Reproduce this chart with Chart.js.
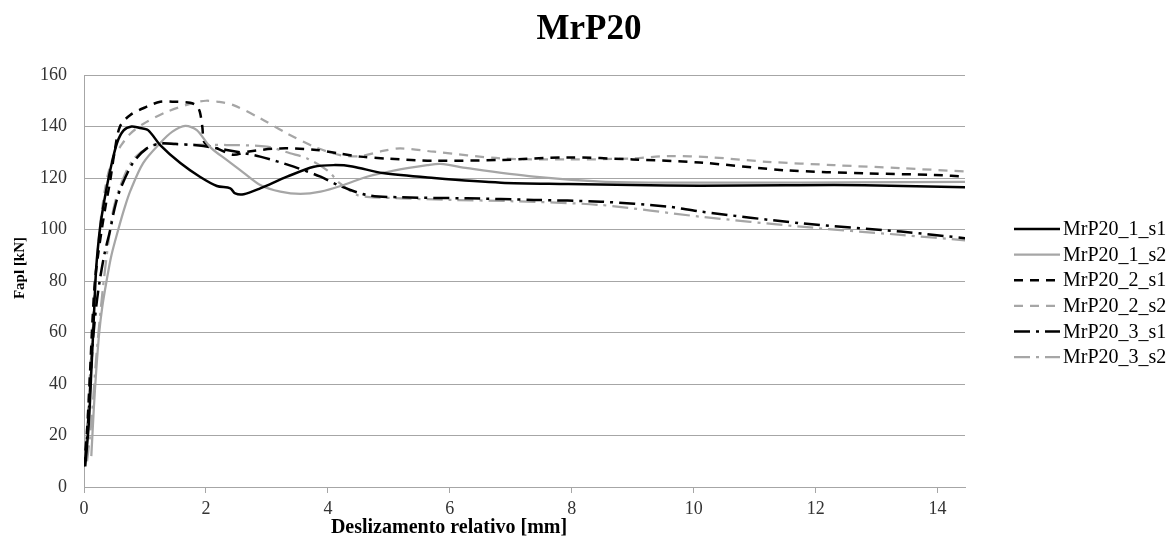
<!DOCTYPE html>
<html>
<head>
<meta charset="utf-8">
<script src="https://cdn.jsdelivr.net/npm/chart.js@4.4.0/dist/chart.umd.min.js"></script>
<style>
html,body{margin:0;padding:0;background:#fff}
#wrap{width:1176px;height:547px;position:relative}
</style>
</head>
<body>
<div id="wrap"><canvas id="cv"></canvas></div>
<script>
// series names
var names = ['MrP20_1_s1', 'MrP20_1_s2', 'MrP20_2_s1', 'MrP20_2_s2', 'MrP20_3_s1', 'MrP20_3_s2'];

// slip [mm] / load [kN]
var s1x = [0.02,0.08,0.12,0.16,0.2,0.26,0.31,0.37,0.43,0.54,0.65,0.78,0.9,1.05,1.25,1.58,1.9,2.18,2.4,2.48,2.62,2.89,3.33,3.77,4.1,4.4,4.9,5.74,6.84,7.94,9.0,10.1,11.5,12.8,14.5];
var s1y = [8,25,45,65,85,100,108,116,123,133.5,138.5,140,139.5,138.6,132.8,125.8,120.5,116.9,116,114,113.7,116,120.5,124.4,125,124.5,121.9,120,118.2,117.7,117.3,117,117.2,117.2,116.4];

var s2x = [0.12,0.16,0.2,0.25,0.3,0.37,0.45,0.56,0.66,0.76,0.97,1.25,1.45,1.66,1.85,2.07,2.34,2.62,2.89,3.22,3.55,3.88,4.26,4.64,5.1,5.63,5.85,6.29,7.38,8.48,9.58,11,12.5,14.5];
var s2y = [12,30,45,60,70,80,90,99.8,108,115,125.8,133.6,138,140.2,138.6,132,127,122,117.3,114.7,113.8,114.7,117.3,120.5,123,125,125.5,123.8,120.5,118.6,118.2,118.2,118.3,118.5];

var s3x = [0.0,0.05,0.1,0.14,0.18,0.23,0.29,0.36,0.43,0.5,0.59,0.76,1.03,1.25,1.5,1.74,1.85,1.9,1.94,1.97,2.05,2.18,2.45,2.67,3.22,3.77,4.2,4.53,5.0,5.74,6.84,7.93,9.0,10.1,11.5,12.86,13.95,14.5];
var s3y = [8,22,45,65,80,90,99.8,110,119,130,140,144.5,147.7,149.6,149.6,149.2,148,145.7,140,134,132.5,131.5,129,130.2,131.5,131,129.5,128.3,127.5,126.7,127,128,127.2,126,123,121.8,121.2,120.5];

var s4x = [0.03,0.07,0.1,0.14,0.18,0.23,0.28,0.34,0.4,0.48,0.59,0.75,0.97,1.36,1.8,2.0,2.2,2.45,2.89,3.33,3.77,4.2,4.53,4.9,5.19,5.74,6.84,7.93,9.0,9.57,10.3,11.2,12.3,13.4,14.5];
var s4y = [15,30,45,62,80,93,105,115,122,128,132,137,141,145.7,149.2,150,149.6,148.3,143.2,137.3,132.2,128.9,128.5,130.5,131.5,130.2,127.6,127.2,127.6,128.5,128,126.3,125,123.8,122.5];

var s5x = [0.02,0.08,0.14,0.2,0.26,0.34,0.43,0.5,0.59,0.8,1.03,1.25,1.5,1.8,1.96,2.34,2.89,3.44,3.88,4.2,4.64,5.19,6.29,7.38,8.48,9.57,10.1,11.76,13.4,14.5];
var s5y = [10,30,55,70,80.4,91,99.8,108,115.3,125.8,131.5,133.4,133.2,132.8,132.4,130.9,128.3,124.4,120.5,116.9,113.4,112.5,112.1,111.5,110.8,108.9,107,102.4,99.2,96.5];

var s6x = [0.05,0.12,0.2,0.3,0.4,0.48,0.59,0.8,1.08,1.36,1.8,2.34,3.0,3.38,3.66,3.99,4.2,4.48,4.64,5.19,6.0,7.0,8.48,10.1,11.76,13.4,14.5];
var s6y = [10,25,50,75,95,107.6,116.6,127,132.2,133.4,133,132.8,132.2,129.6,127.6,123,117.9,113.4,112.7,112.1,111.5,111,109.5,105,101.1,97.9,95.7];

var xTicks = [0,2,4,6,8,10,12,14];
var yTicks = [0,20,40,60,80,100,120,140,160];

var chartTitle = 'MrP20';
var xTitle = 'Deslizamento relativo [mm]';
var yTitle = 'Fapl [kN]';

var BLACK = '#000000';
var GREY = '#a6a6a6';
var SERIF = '"Liberation Serif", "Times New Roman", serif';

function pts(xs, ys) {
  var out = [];
  for (var i = 0; i < xs.length; i++) out.push({x: xs[i], y: ys[i]});
  return out;
}

function ds(i, xs, ys, col, w, dash) {
  return {
    label: names[i],
    data: pts(xs, ys),
    borderColor: col,
    borderWidth: w,
    borderDash: dash,
    pointRadius: 0,
    fill: false,
    tension: 0.3
  };
}

var DASH = [9, 7];
var DASHDOT = [16, 6, 3, 6];

// titles + legend drawn by hand, Excel puts them off-centre
var decor = {
  id: 'decor',
  afterDraw: function (chart) {
    var ctx = chart.ctx;
    ctx.save();
    ctx.fillStyle = '#000';
    ctx.textAlign = 'center';
    ctx.textBaseline = 'middle';
    ctx.font = 'bold 35px ' + SERIF;
    ctx.fillText(chartTitle, 589, 30);

    ctx.font = 'bold 20px ' + SERIF;
    ctx.fillText(xTitle, 449, 528);

    ctx.save();
    ctx.translate(20, 268);
    ctx.rotate(-Math.PI / 2);
    ctx.font = 'bold 15px ' + SERIF;
    ctx.fillText(yTitle, 0, 0);
    ctx.restore();

    ctx.textAlign = 'left';
    chart.data.datasets.forEach(function (d, i) {
      var y = 229 + i * 25.6;
      ctx.strokeStyle = d.borderColor;
      ctx.lineWidth = d.borderWidth;
      ctx.setLineDash(d.borderDash || []);
      ctx.beginPath();
      ctx.moveTo(1014, y);
      ctx.lineTo(1060, y);
      ctx.stroke();
      ctx.setLineDash([]);
      ctx.font = '20px ' + SERIF;
      ctx.fillText(d.label, 1063, y + 1);
    });
    ctx.restore();
  }
};

new Chart(document.getElementById('cv'), {
  type: 'line',
  data: {
    datasets: [
      ds(0, s1x, s1y, BLACK, 2.5, []),
      ds(1, s2x, s2y, GREY, 2.25, []),
      ds(2, s3x, s3y, BLACK, 2.5, DASH),
      ds(3, s4x, s4y, GREY, 2.25, DASH),
      ds(4, s5x, s5y, BLACK, 2.5, DASHDOT),
      ds(5, s6x, s6y, GREY, 2.25, DASHDOT)
    ]
  },
  options: {
    responsive: true,
    maintainAspectRatio: false,
    animation: false,
    layout: {padding: {left: 0, right: 211, top: 75, bottom: 0}},
    plugins: {
      legend: {display: false},
      tooltip: {enabled: false},
      title: {display: false}
    },
    scales: {
      x: {
        type: 'linear',
        min: 0,
        max: 14.45,
        afterFit: function (s) { s.height = 60; },
        afterBuildTicks: function (s) { s.ticks = xTicks.map(function (v) { return {value: v}; }); },
        ticks: {color: '#333', font: {family: SERIF, size: 18}, padding: 5, maxRotation: 0},
        grid: {drawOnChartArea: false, drawTicks: true, tickLength: 6, color: '#a6a6a6'},
        border: {display: true, color: '#a6a6a6', width: 1}
      },
      y: {
        type: 'linear',
        min: 0,
        max: 160,
        afterFit: function (s) { s.width = 84; },
        afterBuildTicks: function (s) { s.ticks = yTicks.map(function (v) { return {value: v}; }); },
        ticks: {color: '#333', font: {family: SERIF, size: 18}, padding: 17},
        grid: {color: '#a6a6a6', lineWidth: 1, drawTicks: false},
        border: {display: true, color: '#a6a6a6', width: 1}
      }
    }
  },
  plugins: [decor]
});
</script>
</body>
</html>
